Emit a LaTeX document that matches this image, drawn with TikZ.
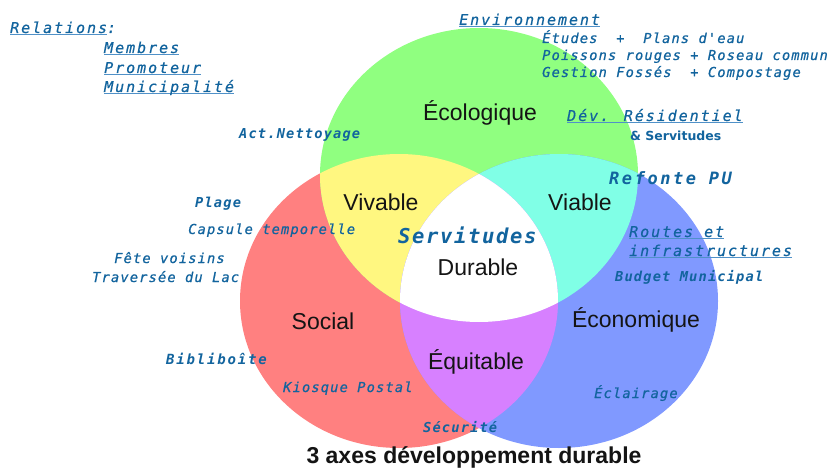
\documentclass[tikz,border=0pt]{standalone}
\usepackage{fontspec}
\setmainfont{Liberation Sans}
\newfontfamily\monofam[ItalicFont={DejaVu Sans Mono Oblique},BoldFont={DejaVu Sans Mono Bold},BoldItalicFont={DejaVu Sans Mono Bold Oblique}]{DejaVu Sans Mono}
\newfontfamily\dvsans{DejaVu Sans}
\definecolor{cred}{RGB}{255,128,128}
\definecolor{cgreen}{RGB}{144,255,128}
\definecolor{cblue}{RGB}{128,153,255}
\definecolor{cyellow}{RGB}{255,247,128}
\definecolor{ccyan}{RGB}{128,255,230}
\definecolor{cpurple}{RGB}{215,128,255}
\definecolor{txtblue}{RGB}{18,100,158}
\definecolor{ulblue}{RGB}{80,145,200}
\newcommand\mfont[3]{\monofam\itshape#3\fontsize{#1}{#1}\selectfont\addfontfeature{LetterSpace=#2}}
\newcommand\ulx[1]{\setbox0\hbox{#1}\rlap{\textcolor{ulblue}{\rule[-2pt]{\wd0}{1.2pt}}}\box0}
\tikzset{
  lbl/.style={font=\fontsize{23}{26}\selectfont, text=black!92, inner sep=0, anchor=base},
  ann/.style={text=txtblue, inner sep=0, anchor=base west},
  small/.style={ann, font=\mfont{13.7}{8.4}{\addfontfeature{FakeBold=0.7}}},
  smallb/.style={ann, font=\mfont{13.7}{8.4}{\bfseries}},
  head/.style={ann, font=\mfont{15}{13}{\addfontfeature{FakeBold=0.5}}},
}
\begin{document}
\begin{tikzpicture}[x=1pt,y=-1pt]
\useasboundingbox (0,0) rectangle (835,468);
\fill[white] (0,0) rectangle (835,468);
\def\ell{ellipse [x radius=159, y radius=147]}
\coordinate (G) at (479,175);
\coordinate (R) at (399,301);
\coordinate (B) at (559,301);
\fill[cred] (R) \ell;
\fill[cgreen] (G) \ell;
\fill[cblue] (B) \ell;
\begin{scope}\clip (R) \ell; \fill[cyellow] (G) \ell; \end{scope}
\begin{scope}\clip (B) \ell; \fill[ccyan] (G) \ell; \end{scope}
\begin{scope}\clip (R) \ell; \fill[cpurple] (B) \ell; \end{scope}
\begin{scope}\clip (R) \ell; \clip (B) \ell; \fill[white] (G) \ell; \end{scope}

% main labels
\node[lbl] (eco) at (480,121) {Écologique};
\node[lbl] (viv) at (381,210) {Vivable};
\node[lbl] (via) at (580,210) {Viable};
\node[lbl] (dur) at (478,275) {Durable};
\node[lbl] (soc) at (323,329) {Social};
\node[lbl] (econ) at (636,327) {Économique};
\node[lbl] (equ) at (476,369) {Équitable};
\node[lbl, font=\bfseries\fontsize{23}{26}\selectfont] (title) at (474,463) {3 axes développement durable};

% annotations
\node[head] (rel) at (10,33) {\ulx{Relations}:};
\node[head] (mem) at (104,53) {\ulx{Membres}};
\node[head] (pro) at (104,73) {\ulx{Promoteur}};
\node[head] (mun) at (104,92) {\ulx{Municipalité}};
\node[smallb] (act) at (239,139) {Act.Nettoyage};
\node[head] (env) at (459,25) {\ulx{Environnement}};
\node[small] (etu) at (542,43) {Études~~+~~Plans d'eau};
\node[small] (poi) at (542,60) {Poissons rouges + Roseau commun};
\node[small] (ges) at (542,77) {Gestion Fossés~~+ Compostage};
\node[head] (dev) at (567,121) {\ulx{Dév. Résidentiel}};
\node[ann, font=\dvsans\bfseries\fontsize{12.5}{14}\selectfont] (ser2) at (630,140) {\& Servitudes};
\node[ann, font=\mfont{17}{15}{\bfseries}] (ref) at (609,184) {Refonte PU};
\node[head] (rou) at (629,237) {\ulx{Routes et}};
\node[head] (inf) at (629,256) {\ulx{infrastructures}};
\node[smallb] (bud) at (615,281) {Budget Municipal};
\node[smallb] (pla) at (195,207) {Plage};
\node[small] (cap) at (188,234) {Capsule temporelle};
\node[small] (fet) at (114,263) {Fête voisins};
\node[small] (tra) at (92,282) {Traversée du Lac};
\node[ann, font=\mfont{20.5}{8}{\bfseries}] (ser) at (398,243) {Servitudes};
\node[ann, font=\mfont{14}{13}{\bfseries}] (bib) at (166,364) {Bibliboîte};
\node[small] (kio) at (283,392) {Kiosque Postal};
\node[smallb] (sec) at (423,432) {Sécurité};
\node[small] (ecl) at (594,398) {Éclairage};
\end{tikzpicture}
\end{document}
